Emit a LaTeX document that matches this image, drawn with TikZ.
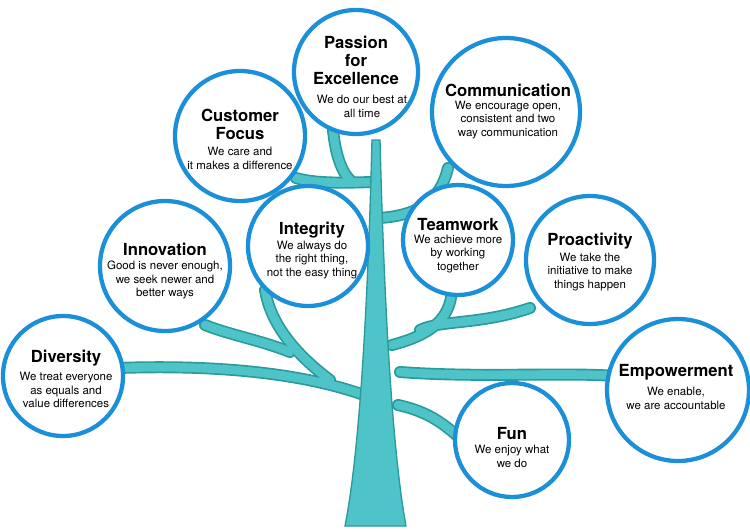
\documentclass[tikz,border=0pt]{standalone}
\usepackage{fontspec}
\setmainfont{TeX Gyre Heros}
\definecolor{teal1}{HTML}{4EC3C8}
\definecolor{teal2}{HTML}{2A9A9C}
\definecolor{ringblue}{HTML}{1B8FD8}
\begin{document}
\begin{tikzpicture}[x=0.75pt,y=-0.75pt,
  val/.style={circle,draw=ringblue,line width=3.2pt,fill=white,minimum size=#1},
  ttl/.style={font=\bfseries\fontsize{12.5}{13.5}\selectfont},
  txt/.style={font=\fontsize{8.6}{10.4}\selectfont,align=center}]
\useasboundingbox (0,0) rectangle (750,532);
\def\branches{
  \draw (372,398) .. controls (300,370) and (200,365) .. (118,368);
  \draw (330,380) .. controls (290,350) and (270,320) .. (265,290);
  \draw (290,352) .. controls (260,340) and (230,335) .. (205,325);
  \draw (376,182) .. controls (360,182) and (320,185) .. (296,178);
  \draw (350,180) .. controls (340,170) and (335,150) .. (333,130);
  \draw (380,218) .. controls (420,215) and (440,200) .. (448,168);
  \draw (392,345) .. controls (430,335) and (450,320) .. (452,290);
  \draw (420,330) .. controls (440,320) and (480,325) .. (530,308);
  \draw (400,372) .. controls (480,378) and (560,372) .. (616,376);
  \draw (398,405) .. controls (430,412) and (445,425) .. (462,440);
}
\begin{scope}[line cap=round,draw=teal2,line width=9pt]\branches\end{scope}
\begin{scope}[line cap=round,draw=teal1,line width=6.5pt]\branches\end{scope}
\filldraw[fill=teal1,draw=teal2,line width=1pt] (345,526) .. controls (360,450) and (368,300) .. (372,140) -- (380,140) .. controls (384,300) and (392,450) .. (406,526) -- cycle;

\node[val=124pt*0.75] (pe) at (356,72) {};
\node[ttl,align=center] (pet) at (356,60) {Passion\\for\\Excellence};
\node[txt] (ped) at (362,106) {We do our best at\\all time};

\node[val=148pt*0.75] (co) at (506,112) {};
\node[ttl] (cot) at (508,90) {Communication};
\node[txt] (cod) at (508,120) {We encourage open,\\consistent and two\\way communication};

\node[val=130pt*0.75] (cf) at (240,136) {};
\node[ttl,align=center] (cft) at (240,124) {Customer\\Focus};
\node[txt] (cfd) at (240,158) {We care and\\it makes a difference};

\node[val=130pt*0.75] (in) at (165,266) {};
\node[ttl] (int) at (165,249) {Innovation};
\node[txt] (ind) at (165,280) {Good is never enough,\\we seek newer and\\better ways};

\node[val=120pt*0.75] (ig) at (308,246) {};
\node[ttl] (igt) at (312,230) {Integrity};
\node[txt] (igd) at (312,260) {We always do\\the right thing,\\not the easy thing};

\node[val=110pt*0.75] (tw) at (458,240) {};
\node[ttl] (twt) at (458,224) {Teamwork};
\node[txt] (twd) at (458,254) {We achieve more\\by working\\together};

\node[val=128pt*0.75] (pr) at (590,260) {};
\node[ttl] (prt) at (590,241) {Proactivity};
\node[txt] (prd) at (590,272) {We take the\\initiative to make\\things happen};

\node[val=120pt*0.75] (di) at (63,376) {};
\node[ttl] (dit) at (66,358) {Diversity};
\node[txt] (did) at (66,390) {We treat everyone\\as equals and\\value differences};

\node[val=142pt*0.75] (em) at (678,390) {};
\node[ttl] (emt) at (676,372) {Empowerment};
\node[txt] (emd) at (676,398) {We enable,\\we are accountable};

\node[val=114pt*0.75] (fu) at (512,440) {};
\node[ttl] (fut) at (512,433) {Fun};
\node[txt] (fud) at (512,456) {We enjoy what\\we do};
\end{tikzpicture}
\end{document}
